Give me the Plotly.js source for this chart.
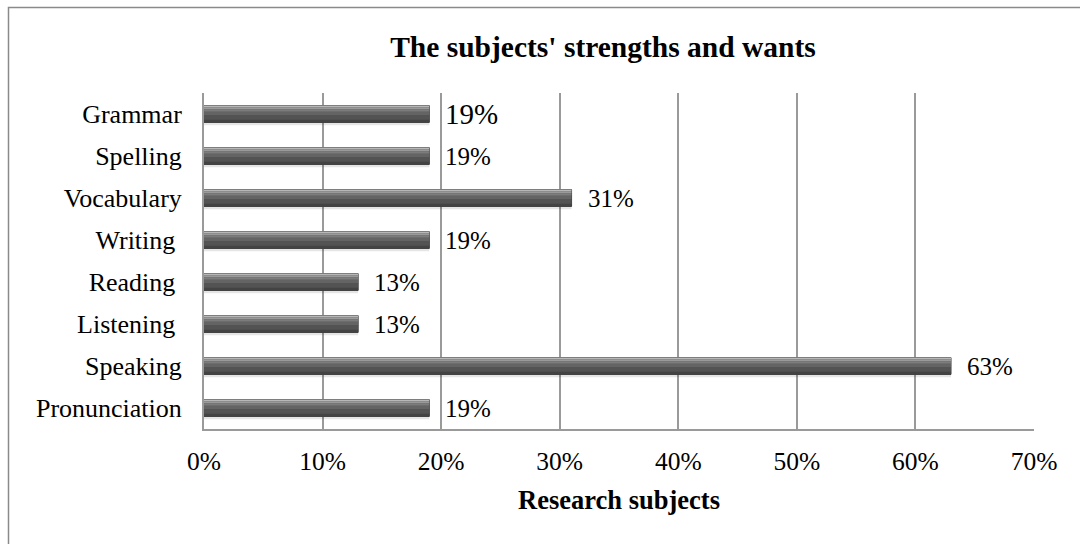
<!DOCTYPE html>
<html><head><meta charset="utf-8">
<script src="https://cdn.plot.ly/plotly-3.0.1.min.js"></script>
<style>html,body{margin:0;padding:0;background:#fff;}#chart{width:1080px;height:544px;}</style>
</head><body><div id="chart"></div>
<script>
// Data (top to bottom as shown)
const categories = ["Grammar", "Spelling", "Vocabulary", "Writing\u00a0", "Reading\u00a0", "Listening\u00a0", "Speaking", "Pronunciation"];
const values = [19, 19, 31, 19, 13, 13, 63, 19];
const valueLabels = ["19%", "19%", "31%", "19%", "13%", "13%", "63%", "19%"];
const xTickVals = [0, 10, 20, 30, 40, 50, 60, 70];
const xTickText = ["0%", "10%", "20%", "30%", "40%", "50%", "60%", "70%"];

const FONT = "Liberation Serif, Times New Roman, serif";
const BW = 0.4; // bar thickness in category units
// gradient stripes (fraction from top, fraction height, colour)
const stripes = [
  [0.00, 0.10, "#b8b8b8"],
  [0.10, 0.12, "#9a9a9a"],
  [0.22, 0.14, "#7c7c7c"],
  [0.36, 0.22, "#646464"],
  [0.58, 0.26, "#535353"],
  [0.84, 0.16, "#434343"]
];

const traces = [];
// soft shadow
traces.push({type: "bar", orientation: "h", y: categories, x: values,
  width: 0.07, offset: BW/2, marker: {color: "rgba(0,0,0,0.10)", line: {width: 0}},
  hoverinfo: "skip", showlegend: false});
// base
traces.push({type: "bar", orientation: "h", y: categories, x: values,
  width: BW, offset: -BW/2, marker: {color: "#505050", line: {color: "#3a3a3a", width: 1}},
  showlegend: false});
stripes.forEach(s => {
  traces.push({type: "bar", orientation: "h", y: categories, x: values,
    width: BW*s[1], offset: -BW/2 + BW*s[0],
    marker: {color: s[2], line: {width: 0}}, hoverinfo: "skip", showlegend: false});
});

const annotations = categories.map((c, i) => ({
  x: values[i], y: c, xref: "x", yref: "y", text: valueLabels[i],
  showarrow: false, xanchor: "left", yanchor: "middle", xshift: 14,
  font: {family: FONT, size: i === 0 ? 29 : 25, color: "#000"}
}));

const layout = {
  width: 1080, height: 544,
  margin: {l: 204, r: 46, t: 93, b: 115},
  paper_bgcolor: "#fff", plot_bgcolor: "#fff",
  barmode: "overlay",
  title: {text: "<b>The subjects' strengths and wants</b>", font: {family: FONT, size: 29.5, color: "#000"},
    x: 603/1080, xanchor: "center", xref: "container", y: 1 - 47/544, yanchor: "middle", yref: "container"},
  xaxis: {range: [0, 70], tickvals: xTickVals, ticktext: xTickText,
    showgrid: true, gridcolor: "#9a9a9a", gridwidth: 2,
    showline: true, linecolor: "#9a9a9a", linewidth: 2, ticks: "", zeroline: false,
    ticklabelstandoff: 8,
    tickfont: {family: FONT, size: 25.5, color: "#000"},
    title: {text: "<b>Research subjects</b>", font: {family: FONT, size: 26.5, color: "#000"}, standoff: 16}},
  yaxis: {type: "category", autorange: "reversed", showgrid: false,
    showline: true, linecolor: "#9a9a9a", linewidth: 2, ticks: "",
    ticklabelstandoff: 15,
    tickfont: {family: FONT, size: 26, color: "#000"}},
  annotations: annotations,
  shapes: [{type: "rect", xref: "paper", yref: "paper",
    x0: (8.5-204)/830, x1: 1.2, y0: -0.6, y1: (429-7.5)/336,
    line: {color: "#8a8a8a", width: 1.5}, fillcolor: "rgba(0,0,0,0)", layer: "below"}]
};

Plotly.newPlot("chart", traces, layout, {displayModeBar: false, staticPlot: true});
</script></body></html>
